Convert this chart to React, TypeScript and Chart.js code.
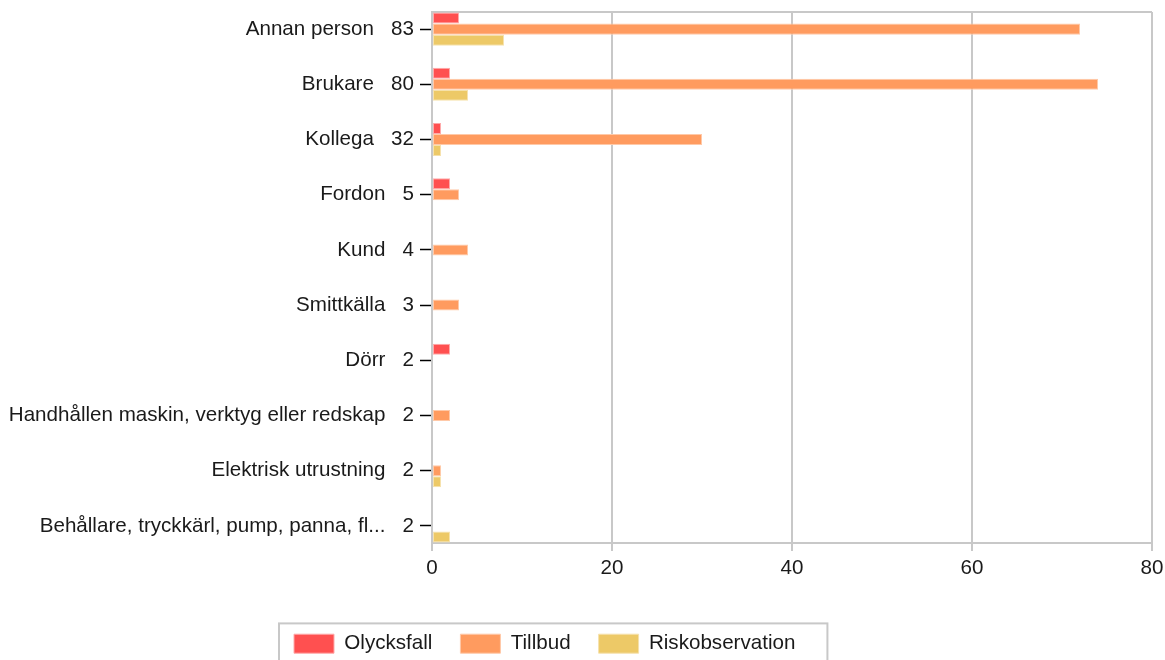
import React, { useEffect, useRef } from "react";
import { Chart, registerables } from "chart.js";

Chart.register(...registerables);

const categories = [
  "Annan person",
  "Brukare",
  "Kollega",
  "Fordon",
  "Kund",
  "Smittkälla",
  "Dörr",
  "Handhållen maskin, verktyg eller redskap",
  "Elektrisk utrustning",
  "Behållare, tryckkärl, pump, panna, fl...",
];
const totals = [83, 80, 32, 5, 4, 3, 2, 2, 2, 2];
const olycksfall = [3, 2, 1, 2, 0, 0, 2, 0, 0, 0];
const tillbud = [72, 74, 30, 3, 4, 3, 0, 2, 1, 0];
const riskobservation = [8, 4, 1, 0, 0, 0, 0, 0, 1, 2];
const seriesNames = ["Olycksfall", "Tillbud", "Riskobservation"];
const xTicks = [0, 20, 40, 60, 80];

const FONT = "Arial, 'Liberation Sans', sans-serif";
const FS = 20.6;
const GRID = "#c8c8c8";
const W = 1165;
const H = 664;

const toPoints = (vals: number[]) =>
  vals.map((v, i) => ({ x: v === 0 ? null : v, y: i }));

const framePlugin = {
  id: "frames",
  afterLayout(chart: any) {
    const lg = chart.legend;
    if (!lg) return;
    const w = lg.right - lg.left;
    lg.left = 266;
    lg.right = 266 + w;
  },
  beforeDatasetsDraw(chart: any) {
    const { ctx, chartArea } = chart;
    ctx.save();
    ctx.strokeStyle = GRID;
    ctx.lineWidth = 2;
    ctx.beginPath();
    ctx.moveTo(chartArea.left, chartArea.top);
    ctx.lineTo(chartArea.right, chartArea.top);
    ctx.stroke();
    ctx.restore();
  },
  afterDraw(chart: any) {
    const lg = chart.legend;
    if (!lg || !lg.legendHitBoxes || !lg.legendHitBoxes.length) return;
    const hb = lg.legendHitBoxes;
    const first = hb[0];
    const last = hb[hb.length - 1];
    const left = first.left - 15;
    const right = last.left + last.width + 32;
    const top = first.top - 10;
    const { ctx } = chart;
    ctx.save();
    ctx.strokeStyle = GRID;
    ctx.lineWidth = 2;
    ctx.strokeRect(left, top, right - left, 80);
    ctx.restore();
  },
};

export default function App() {
  const ref = useRef<HTMLCanvasElement | null>(null);

  useEffect(() => {
    if (!ref.current) return;
    const chart = new Chart(ref.current, {
      type: "bar",
      data: {
        datasets: [
          {
            label: seriesNames[0],
            data: toPoints(olycksfall) as any,
            backgroundColor: "#ff5050",
            borderColor: "#ffaaaa",
            borderWidth: 1,
            borderSkipped: false,
          },
          {
            label: seriesNames[1],
            data: toPoints(tillbud) as any,
            backgroundColor: "#ff9b5f",
            borderColor: "#ffc9a8",
            borderWidth: 1,
            borderSkipped: false,
          },
          {
            label: seriesNames[2],
            data: toPoints(riskobservation) as any,
            backgroundColor: "#edc967",
            borderColor: "#f6e2ad",
            borderWidth: 1,
            borderSkipped: false,
          },
        ],
      },
      options: {
        indexAxis: "y",
        responsive: false,
        animation: false,
        events: [],
        datasets: {
          bar: { categoryPercentage: 0.6, barPercentage: 1 },
        },
        layout: { padding: { left: 0, right: 13, top: 12, bottom: 0 } },
        scales: {
          x: {
            type: "linear",
            min: xTicks[0],
            max: xTicks[xTicks.length - 1],
            afterBuildTicks: (scale: any) => {
              scale.ticks = xTicks.map((v) => ({ value: v }));
            },
            afterFit: (scale: any) => {
              scale.height = 62.4;
              scale.paddingLeft = 0;
              scale.paddingRight = 0;
            },
            grid: {
              color: GRID,
              lineWidth: 2,
              drawTicks: true,
              tickLength: 8,
              tickColor: GRID,
            },
            border: { color: GRID, width: 2 },
            ticks: {
              padding: 5,
              color: "#1a1a1a",
              font: { family: FONT, size: FS },
              maxRotation: 0,
            },
          },
          y: {
            type: "linear",
            reverse: true,
            offset: false,
            bounds: "data",
            min: -0.31,
            max: categories.length - 1 + 0.31,
            afterBuildTicks: (scale: any) => {
              scale.ticks = categories.map((_, i) => ({ value: i }));
            },
            afterFit: (scale: any) => {
              scale.width = 432;
              scale.paddingTop = 0;
              scale.paddingBottom = 0;
            },
            grid: {
              offset: false,
              drawOnChartArea: false,
              drawTicks: true,
              tickLength: 12,
              tickColor: "#000",
              tickWidth: 1.5,
            },
            border: { color: GRID, width: 2 },
            ticks: {
              autoSkip: false,
              padding: 6,
              color: "#1a1a1a",
              font: { family: FONT, size: FS },
              callback: (v: any) =>
                `${categories[v as number]}   ${totals[v as number]}`,
            },
          },
        },
        plugins: {
          legend: {
            display: true,
            position: "bottom",
            align: "start",
            labels: {
              boxWidth: 40,
              boxHeight: 19,
              padding: 28,
              color: "#1a1a1a",
              font: { family: FONT, size: FS },
            },
          },
          tooltip: { enabled: false },
          title: { display: false },
        },
      },
      plugins: [framePlugin],
    } as any);
    return () => chart.destroy();
  }, []);

  return (
    <div
      style={{
        position: "fixed",
        left: 0,
        top: 0,
        width: W,
        height: H,
        background: "#fff",
      }}
    >
      <canvas ref={ref} width={W} height={H} style={{ display: "block" }} />
    </div>
  );
}
